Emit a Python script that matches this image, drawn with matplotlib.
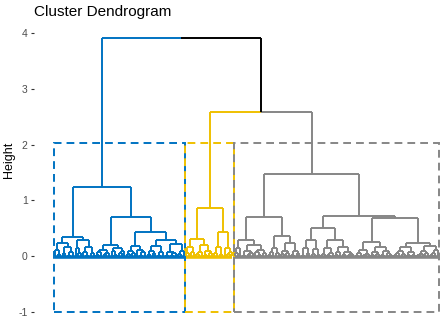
import re
import matplotlib
matplotlib.use("Agg")
import matplotlib.pyplot as plt
from matplotlib.collections import LineCollection
from matplotlib.patches import Rectangle

# ---- data: dendrogram structure (Newick-like, x = leaf, number = merge height)
blue_tree = ("((((x,(x,x)0.04)0.12,((x,x)0.05,((x,x)0.03,x)0.07)0.17)0.24,"
             "((x,(x,x)0.05)0.14,((x,(x,x)0.03)0.08,(x,x)0.06)0.16)0.29)0.35,"
             "(((((x,x)0.03,x)0.07,((x,x)0.04,x)0.06)0.12,((x,(x,x)0.02)0.09,((x,x)0.05,x)0.1)0.15)0.2,"
             "((((x,x)0.04,(x,x)0.06)0.1,(x,((x,x)0.03,x)0.07)0.12)0.19,"
             "((((x,x)0.04,(x,x)0.05)0.1,((x,x)0.03,x)0.08)0.19,"
             "(((x,x)0.03,((x,x)0.02,x)0.05)0.08,((x,x)0.04,x)0.1)0.22)0.29)0.43)0.7)1.25")
yellow_tree = ("((((x,x)0.05,(x,x)0.07)0.17,(((x,x)0.04,x)0.08,((x,x)0.03,(x,x)0.05)0.1)0.21)0.31,"
               "(((x,x)0.06,(x,x)0.04)0.17,(x,((x,x)0.04,x)0.08)0.14)0.44)0.86")
gray_tree = ("(((((x,x)0.05,x)0.14,(((x,x)0.03,((x,x)0.04,x)0.06)0.1,((x,(x,x)0.03)0.07,(x,x)0.05)0.12)0.2)0.3,"
             "((((x,x)0.03,x)0.07,(x,x)0.05)0.14,(((x,x)0.04,(x,x)0.05)0.1,((x,x)0.03,(x,x)0.06)0.09)0.23)0.37)0.7,"
             "(((((x,x)0.03,(x,x)0.05)0.14,((x,x)0.04,(x,x)0.02)0.13)0.29,"
             "(((x,x)0.04,((x,x)0.03,x)0.06)0.15,(((x,x)0.03,x)0.07,((x,x)0.04,((x,x)0.02,x)0.04)0.08)0.16)0.29)0.5,"
             "(((((x,x)0.03,x)0.06,((x,x)0.02,x)0.04)0.12,(((x,x)0.02,(x,x)0.04)0.07,((x,x)0.03,(x,(x,x)0.02)0.05)0.09)0.17)0.25,"
             "(((((x,x)0.03,x)0.05,(x,x)0.04)0.1,((x,x)0.02,(x,x)0.03)0.08)0.16,"
             "((((x,x)0.02,x)0.04,(x,x)0.05)0.09,(((x,x)0.03,x)0.06,x)0.11)0.18)0.24)0.68)0.73)1.48")
upper_heights = [2.58, 3.91]          # (yellow+gray) merge, root merge
cluster_colors = ["#0073C2", "#EFC000", "#868686"]
y_ticks = [-1, 0, 1, 2, 3, 4]


def parse(s):
    pos = 0

    def node():
        nonlocal pos
        if s[pos] == "x":
            pos += 1
            return {"leaf": True}
        pos += 1  # (
        left = node()
        pos += 1  # ,
        right = node()
        pos += 1  # )
        m = re.match(r"[0-9.]+", s[pos:])
        pos += len(m.group())
        return {"leaf": False, "l": left, "r": right, "h": float(m.group())}

    return node()


clusters = [parse(t) for t in (blue_tree, yellow_tree, gray_tree)]
for c, col in zip(clusters, cluster_colors):
    c["col"] = col
right_node = {"leaf": False, "l": clusters[1], "r": clusters[2], "h": upper_heights[0]}
root = {"leaf": False, "l": clusters[0], "r": right_node, "h": upper_heights[1]}

segs, cols = [], []
counter = [0]


def layout(n, inherited):
    col = n.get("col", inherited)
    if n["leaf"]:
        counter[0] += 1
        return counter[0], 0.0, col
    lx, lh, lc = layout(n["l"], col)
    rx, rh, rc = layout(n["r"], col)
    x = (lx + rx) / 2
    h = n["h"]
    for cx, ch, cc in ((lx, lh, lc), (rx, rh, rc)):
        segs.append([(cx, h), (x, h)]); cols.append(cc)
        segs.append([(cx, h), (cx, ch)]); cols.append(cc)
    return x, h, col


def count_leaves(n):
    return 1 if n["leaf"] else count_leaves(n["l"]) + count_leaves(n["r"])


layout(root, "black")
n_total = counter[0]

fig = plt.figure(figsize=(4.46, 3.2), dpi=100)
ax = fig.add_axes([34 / 446, 4 / 320, 410 / 446, 288 / 320])
ax.add_collection(LineCollection(segs, colors=cols, linewidths=1.4, capstyle="butt"))

# dashed rectangles around clusters, and the dense leaf band along zero
rect_top = (max(c["h"] for c in clusters) + upper_heights[0]) / 2
rect_bottom = -1.0
start = 0.5
for c, col in zip(clusters, cluster_colors):
    n = count_leaves(c)
    r = Rectangle((start, rect_bottom), n, rect_top - rect_bottom, fill=False,
                  edgecolor=col, linewidth=1.4, linestyle=(0, (4, 2.6)))
    ax.add_patch(r)
    ax.plot([start + 0.5, start + n - 0.5], [-0.02, -0.02], color=col, lw=2.6,
            solid_capstyle="butt")
    start += n

px = 2.571  # pixels per leaf
ax.set_xlim(0.5 - (53.7 - 34) / px, n_total + 0.5 + (444 - 439.3) / px)
ax.set_ylim(-1.07, 4.09)
ax.set_xticks([])
ax.set_yticks(y_ticks)
ax.set_yticklabels([str(t) for t in y_ticks])
for s in ax.spines.values():
    s.set_visible(False)
ax.tick_params(axis="y", length=2.5, width=0.8, color="#333333", labelsize=7.5,
               labelcolor="#4D4D4D", pad=2)
for lab in ax.get_yticklabels():
    lab.set_fontfamily("Liberation Sans")
fig.text(9 / 446, 1 - 160 / 320, "Height", fontsize=9, family="Liberation Sans",
         rotation=90, va="center", ha="center")
fig.text(34 / 446, 1 - 12 / 320, "Cluster Dendrogram", fontsize=11, family="Liberation Sans",
         va="center", ha="left")
fig.savefig("out.png", dpi=100)
